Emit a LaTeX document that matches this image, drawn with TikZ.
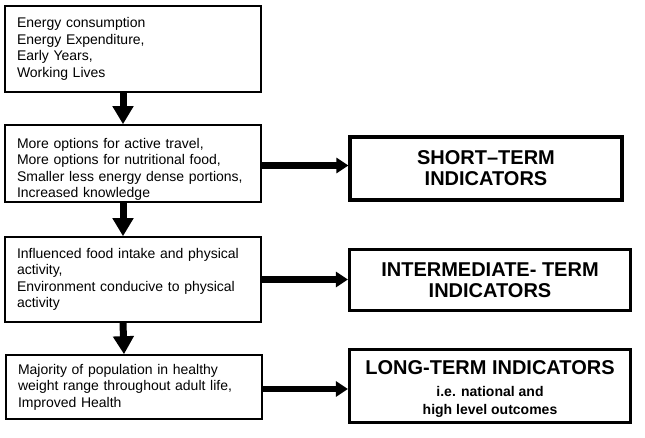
\documentclass[tikz,border=0pt]{standalone}
\usepackage{fontspec}
\setmainfont{Liberation Sans}
\usetikzlibrary{arrows.meta}
\tikzset{%
    stage/.style={%
        draw, line width=1.6pt, inner xsep=12pt, text width=232pt,
        align=left, font=\fontsize{14}{16.5}\selectfont
    },
    indicator/.style={%
        draw, line width=3.2pt, align=center,
        font=\bfseries\fontsize{20}{21}\selectfont
    },
    down/.style={line width=7pt, -{Triangle[length=18pt,width=20pt]}},
    feed/.style={line width=6.5pt, -{Triangle[length=12pt,width=15pt]}}
}

\begin{document}
\begin{tikzpicture}[x=1pt,y=-1pt]
    \useasboundingbox (0,0) rectangle (645,438);
    % left column
    \node[stage, minimum height=86pt] (energy) at (133,49)
        {Energy consumption\\Energy Expenditure,\\Early Years,\\Working Lives};
    \node[stage, minimum height=77pt, inner ysep=0pt] (options) at (133,163.5)
        {\rule{0pt}{22pt}More options for active travel,\\More options for nutritional food,\\Smaller less energy dense portions,\\Increased knowledge};
    \node[stage, minimum height=85pt] (intake) at (133,279.5)
        {Influenced food intake and physical\\activity,\\Environment conducive to physical\\activity};
    \node[stage, minimum height=64pt] (health) at (134,387)
        {Majority of population in healthy\\weight range throughout adult life,\\Improved Health};
    % right column
    \node[indicator, minimum width=272pt, minimum height=63pt] (short) at (486,168.5)
        {SHORT--TERM\\INDICATORS};
    \node[indicator, minimum width=281pt, minimum height=61pt] (inter) at (490,280)
        {INTERMEDIATE- TERM\\INDICATORS};
    \node[indicator, minimum width=281pt, minimum height=73pt, text width=270pt,
          inner ysep=2pt, align=flush center] (long) at (490,386)
        {\rule{0pt}{20pt}LONG-TERM INDICATORS\par\vskip4pt
         \fontsize{14}{18}\selectfont i.e. national and\\high level outcomes\par};
    % arrows
    \draw[down] ([xshift=-10pt]energy.south) -- ([xshift=-10pt]options.north);
    \draw[down] ([xshift=-10pt]options.south) -- ([xshift=-10pt]intake.north);
    \draw[down] ([xshift=-10pt]intake.south) -- ([xshift=-10pt]health.north);
    \draw[feed] ([yshift=-2pt]options.east) -- ([yshift=-2pt]options.east -| short.west);
    \draw[feed] (intake.east) -- (intake.east -| inter.west);
    \draw[feed] ([yshift=-2pt]health.east) -- ([yshift=-2pt]health.east -| long.west);
\end{tikzpicture}
\end{document}
